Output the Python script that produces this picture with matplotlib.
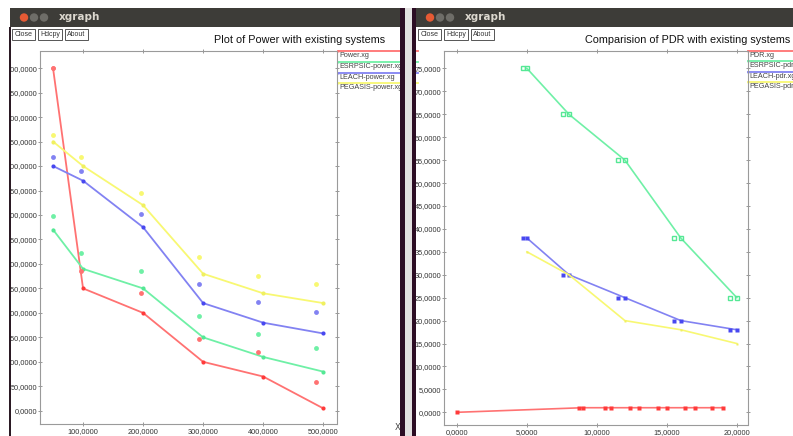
import matplotlib
matplotlib.use("Agg")
import matplotlib.pyplot as plt
from matplotlib.patches import Rectangle, Circle

# ---- data: power chart (left window) ----
power_x = [50, 100, 200, 300, 400, 500]
power_red = [700, 250, 200, 100, 70, 5]
power_green = [370, 290, 250, 150, 110, 80]
power_blue = [500, 470, 375, 220, 180, 158]
power_yellow = [550, 500, 420, 280, 240, 220]

power_pts_x = [50, 97, 196, 293, 392, 488]
power_pts_red = [700, 286, 240, 146, 120, 59]
power_pts_green = [397, 323, 285, 194, 157, 129]
power_pts_blue = [518, 489, 402, 258, 222, 202]
power_pts_yellow = [563, 518, 444, 314, 276, 258]

power_names = ["Power.xg", "ESRPSIC-power.xg", "LEACH-power.xg", "PEGASIS-power.xg"]
power_xticks = [100, 200, 300, 400, 500]
power_yticks = list(range(0, 701, 50))

# ---- data: PDR chart (right window) ----
pdr_red_x = [0, 9, 11, 13, 15, 17, 19]
pdr_red = [0, 1, 1, 1, 1, 1, 1]
pdr_red_pts_x = [8.7, 10.6, 12.4, 14.4, 16.3, 18.2]
pdr_red_pts = [1, 1, 1, 1, 1, 1]

pdr_x = [5, 8, 12, 16, 20]
pdr_pts_x = [4.7, 7.6, 11.5, 15.5, 19.5]
pdr_green = [75, 65, 55, 38, 25]
pdr_blue = [38, 30, 25, 20, 18]
pdr_yellow = [35, 30, 20, 18, 15]

pdr_names = ["PDR.xg", "ESRPSIC-pdr.xg", "LEACH-pdr.xg", "PEGASIS-pdr.xg"]
pdr_xticks = [0, 5, 10, 15, 20]
pdr_yticks = list(range(0, 76, 5))

RED, GREEN, BLUE, YELLOW = "#ff7272", "#6ff0a6", "#8282f2", "#f8f872"
RED_M, GREEN_M, BLUE_M, YELLOW_M = "#ff3a3a", "#55e895", "#4848f0", "#f0f060"
cols = [RED, GREEN, BLUE, YELLOW]
SMALL = ["Liberation Sans Narrow", "Liberation Sans", "DejaVu Sans"]

W, H = 793, 436
fig = plt.figure(figsize=(W / 100, H / 100), dpi=100)
fig.patch.set_facecolor("white")

# background layer in pixel coordinates
bg = fig.add_axes([0, 0, 1, 1], zorder=0)
bg.set_xlim(0, W)
bg.set_ylim(H, 0)
bg.axis("off")


def window_chrome(x0, x1, title, names, leg_x, leg_ys):
    bg.add_patch(Rectangle((x0, 8), x1 - x0, 19, color="#3d3c38", lw=0))
    cx = x0 + 14
    bg.add_patch(Circle((cx, 17.5), 4.2, color="#e65a34", lw=0))
    bg.add_patch(Circle((cx + 10, 17.5), 4.2, color="#6e6d68", lw=0))
    bg.add_patch(Circle((cx + 20, 17.5), 4.2, color="#6e6d68", lw=0))
    bg.text(cx + 35, 17.5, "xgraph", color="#dcd8cf", fontsize=7.5,
            fontweight="bold", va="center", ha="left")
    bx = x0 + 2
    for lab, bw in [("Close", 23), ("Hdcpy", 24), ("About", 23)]:
        bg.add_patch(Rectangle((bx, 29), bw, 11, fill=False, ec="#555555", lw=0.7))
        bg.text(bx + bw / 2, 34.5, lab, fontsize=5, ha="center", va="center",
                color="#333333", family=SMALL)
        bx += bw + 3
    bg.text(title[1], 40, title[0], fontsize=7.8, ha="right", va="center",
            family="Liberation Sans", color="#111111")
    for name, c, ly in zip(names, cols, leg_ys):
        bg.plot([leg_x, leg_x + 80], [ly, ly], color=c, lw=1.3)
        bg.plot([leg_x], [ly], marker="s", ms=2, color=c, mec="none")
        bg.text(leg_x + 1, ly + 4.5, name, fontsize=5.2, ha="left", va="center",
                color="#444444", family=SMALL)


window_chrome(10, 400, ("Plot of Power with existing systems", 385),
              power_names, 338, [51, 62, 73, 83])
window_chrome(416, W, ("Comparision of PDR with existing systems", 790),
              pdr_names, 748, [51, 61, 72, 82])
bg.text(395, 427, "X", fontsize=6, color="#444444", ha="left", va="center")


def fmt(v):
    return ("%.4f" % v).replace(".", ",")


def style_axes(ax, xticks, yticks):
    ax.set_facecolor("none")
    for s in ax.spines.values():
        s.set_linestyle((0, (1, 1)))
        s.set_color("#9a9a9a")
        s.set_linewidth(0.8)
    ax.set_xticks(xticks, labels=[fmt(v) for v in xticks])
    ax.set_yticks(yticks, labels=[fmt(v) for v in yticks])
    ax.tick_params(axis="both", which="both", direction="inout", length=3.5,
                   width=0.6, color="#888888", labelsize=5.3, labelcolor="#333333",
                   top=True, right=True, pad=0.2)
    ax.tick_params(axis="x", pad=1.5)
    for lab in ax.get_xticklabels() + ax.get_yticklabels():
        lab.set_family(SMALL)


def px_axes(x0, y0, x1, y1):
    return fig.add_axes([x0 / W, (H - y1) / H, (x1 - x0) / W, (y1 - y0) / H], zorder=2)


# ---- left chart ----
ax1 = px_axes(40, 51, 337, 424)
style_axes(ax1, power_xticks, power_yticks)
ax1.set_xlim(28.3, 523)
ax1.set_ylim(-27, 735)
for ys, c, m in [(power_red, RED, RED_M), (power_green, GREEN, GREEN_M),
                 (power_blue, BLUE, BLUE_M), (power_yellow, YELLOW, YELLOW_M)]:
    ax1.plot(power_x, ys, color=c, lw=1.3, marker="o", ms=3, mfc=m, mec="none")
for ys, c in [(power_pts_red, RED), (power_pts_green, GREEN),
              (power_pts_blue, BLUE), (power_pts_yellow, YELLOW)]:
    ax1.plot(power_pts_x, ys, ls="none", marker="o", ms=3.5, color=c, mec="none")

# ---- right chart ----
ax2 = px_axes(444, 51, 748, 425)
style_axes(ax2, pdr_xticks, pdr_yticks)
ax2.set_xlim(-0.93, 20.8)
ax2.set_ylim(-2.77, 78.8)
ax2.plot(pdr_red_x, pdr_red, color=RED, lw=1.2, marker="s", ms=2.2, mfc=RED_M, mec="none")
ax2.plot(pdr_red_pts_x, pdr_red_pts, ls="none", marker="s", ms=2.2, color=RED_M, mec="none")
ax2.plot(pdr_x, pdr_green, color=GREEN, lw=1.2, marker="s", ms=3, mfc="none", mec=GREEN_M)
ax2.plot(pdr_pts_x, pdr_green, ls="none", marker="s", ms=3, mfc="none", mec=GREEN_M)
ax2.plot(pdr_x, pdr_blue, color=BLUE, lw=1.2, marker="s", ms=2.5, mfc=BLUE_M, mec="none")
ax2.plot(pdr_pts_x, pdr_blue, ls="none", marker="s", ms=2.5, color=BLUE_M, mec="none")
ax2.plot(pdr_x, pdr_yellow, color=YELLOW, lw=1.2, marker="s", ms=2, mfc=YELLOW_M, mec="none")

# foreground: window borders
fg = fig.add_axes([0, 0, 1, 1], zorder=5)
fg.set_xlim(0, W)
fg.set_ylim(H, 0)
fg.axis("off")
fg.patch.set_alpha(0)
fg.add_patch(Rectangle((0, 27), 9, H - 27, color="white", lw=0))
fg.add_patch(Rectangle((9, 27), 1.5, H - 27, color="#2b1a24", lw=0))
fg.add_patch(Rectangle((400, 8), 5, H - 8, color="#2c0d24", lw=0))
fg.add_patch(Rectangle((405, 8), 7, H - 8, color="#e2e0e0", lw=0))
fg.add_patch(Rectangle((412, 8), 3.5, H - 8, color="#2c0d24", lw=0))

fig.savefig("out.png", dpi=100)
